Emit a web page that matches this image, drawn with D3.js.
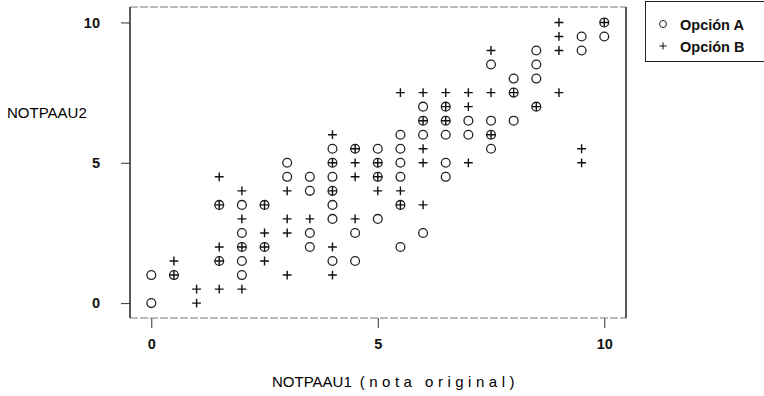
<!DOCTYPE html>
<meta charset="utf-8">
<script src="https://d3js.org/d3.v7.min.js"></script>
<style>
body { margin: 0; background: #fff; }
svg { display: block; font-family: "Liberation Sans", Arial, sans-serif; font-weight: bold; }
.axis .domain { display: none; }
.axis line { stroke: #333; }
.axis text { font-size: 14.5px; fill: #111; }
.title { font-weight: normal; font-size: 15px; fill: #000; }
</style>
<body>
<div id="canvas"></div>
<script>

// pontos (x = NOTPAAU1, y = NOTPAAU2)
var optionA = [
    [0,1],[0,0],
    [0.5,1],
    [1.5,3.5],[1.5,1.5],
    [2,3.5],[2,2.5],[2,2],[2,1.5],[2,1],
    [2.5,3.5],[2.5,2],
    [3,5],[3,4.5],
    [3.5,4.5],[3.5,4],[3.5,2.5],[3.5,2],
    [4,5.5],[4,5],[4,4.5],[4,4],[4,3.5],[4,3],[4,1.5],
    [4.5,5.5],[4.5,2.5],[4.5,1.5],
    [5,5.5],[5,5],[5,4.5],[5,3],
    [5.5,6],[5.5,5.5],[5.5,5],[5.5,4.5],[5.5,3.5],[5.5,2],
    [6,7],[6,6.5],[6,6],[6,2.5],
    [6.5,7],[6.5,6.5],[6.5,6],[6.5,5],[6.5,4.5],
    [7,6.5],[7,6],
    [7.5,8.5],[7.5,6.5],[7.5,6],[7.5,5.5],
    [8,8],[8,7.5],[8,6.5],
    [8.5,9],[8.5,8.5],[8.5,8],[8.5,7],
    [9.5,9.5],[9.5,9],
    [10,10],[10,9.5]
];
var optionB = [
    [0.5,1],[0.5,1.5],
    [1,0.5],[1,0],
    [1.5,4.5],[1.5,3.5],[1.5,2],[1.5,1.5],[1.5,0.5],
    [2,4],[2,3],[2,2],[2,0.5],
    [2.5,3.5],[2.5,2.5],[2.5,2],[2.5,1.5],
    [3,4],[3,3],[3,2.5],[3,1],
    [3.5,3],
    [4,6],[4,5],[4,4],[4,2],[4,1],
    [4.5,5.5],[4.5,5],[4.5,4.5],[4.5,3],
    [5,5],[5,4.5],[5,4],
    [5.5,7.5],[5.5,4],[5.5,3.5],
    [6,7.5],[6,6.5],[6,5.5],[6,5],[6,3.5],
    [6.5,7.5],[6.5,7],[6.5,6.5],
    [7,7.5],[7,7],[7,5],
    [7.5,9],[7.5,7.5],[7.5,6],
    [8,7.5],
    [8.5,7],
    [9,10],[9,9.5],[9,9],[9,7.5],
    [9.5,5.5],[9.5,5],
    [10,10]
];
var seriesNames = ["Opción A", "Opción B"];
var xTicks = [0, 5, 10];
var yTicks = [0, 5, 10];
var xTitle = ["NOTPAAU1", "(nota original)"];
var yTitle = "NOTPAAU2";

var width = 764;
var height = 396;

var svg = d3.select('#canvas')
    .append("svg")
    .attr("width", width)
    .attr("height", height);

var margin = {top: 7, right: 138, bottom: 78, left: 130};
var w = width - margin.left - margin.right;
var h = height - margin.top - margin.bottom;

var g = svg.append("g")
    .attr("transform", "translate(" + margin.left + "," + margin.top + ")");

// escalas - a moldura vai um pouco alem de 0 e 10
var x = d3.scaleLinear().domain([-0.47, 10.48]).range([0, w]);
var y = d3.scaleLinear().domain([-0.53, 10.55]).range([h, 0]);

// eixos
g.append("g")
    .attr("class", "axis")
    .attr("transform", "translate(0," + h + ")")
    .call(d3.axisBottom(x).tickValues(xTicks).tickSize(10).tickPadding(11).tickFormat(d3.format("d")));

g.append("g")
    .attr("class", "axis")
    .call(d3.axisLeft(y).tickValues(yTicks).tickSize(9).tickPadding(21).tickFormat(d3.format("d")));

// moldura (lados escuros, topo/base mais claros como no original)
g.append("line").attr("x1", 0).attr("x2", w).attr("y1", 0).attr("y2", 0)
    .attr("stroke", "#777").attr("stroke-dasharray", "8,2");
g.append("line").attr("x1", 0).attr("x2", w).attr("y1", h).attr("y2", h)
    .attr("stroke", "#777").attr("stroke-dasharray", "8,2");
g.append("line").attr("x1", 0).attr("x2", 0).attr("y1", 0).attr("y2", h)
    .attr("stroke", "#222").attr("stroke-width", 1.5);
g.append("line").attr("x1", w).attr("x2", w).attr("y1", 0).attr("y2", h)
    .attr("stroke", "#222").attr("stroke-width", 1.5);

// Opção A - circulos
g.selectAll(".ptA")
    .data(optionA)
    .enter()
    .append("circle")
    .attr("class", "ptA")
    .attr("cx", function(d) { return x(d[0]); })
    .attr("cy", function(d) { return y(d[1]); })
    .attr("r", 4.4)
    .attr("fill", "none")
    .attr("stroke", "#222")
    .attr("stroke-width", 1.3);

// Opção B - cruzes
var plus = function(cx, cy, s) {
    return "M" + (cx - s) + "," + cy + "H" + (cx + s) + "M" + cx + "," + (cy - s) + "V" + (cy + s);
};
g.selectAll(".ptB")
    .data(optionB)
    .enter()
    .append("path")
    .attr("class", "ptB")
    .attr("d", function(d) { return plus(x(d[0]), y(d[1]), 4.4); })
    .attr("fill", "none")
    .attr("stroke", "#111")
    .attr("stroke-width", 1.4);

// titulos dos eixos
svg.append("text")
    .attr("class", "title")
    .attr("x", 7)
    .attr("y", 118)
    .text(yTitle);

var xt = svg.append("text")
    .attr("class", "title")
    .attr("x", 272)
    .attr("y", 387);
xt.append("tspan").text(xTitle[0]);
xt.append("tspan").attr("dx", 8).style("letter-spacing", "4.5px").text(xTitle[1]);

// legenda ---------------------------------------------------
svg.append("rect")
    .attr("x", 645.5)
    .attr("y", 1.5)
    .attr("width", 130)
    .attr("height", 60)
    .attr("fill", "none")
    .attr("stroke", "#222");

var legend = svg.selectAll(".legend")
    .data(seriesNames)
    .enter()
    .append("g")
    .attr("class", "legend")
    .attr("transform", function(d, i) { return "translate(663," + (24 + i * 22) + ")"; });

legend.filter(function(d, i) { return i === 0; })
    .append("circle")
    .attr("r", 3.5)
    .attr("fill", "none")
    .attr("stroke", "#222");
legend.filter(function(d, i) { return i === 1; })
    .append("path")
    .attr("d", plus(0, 0, 3.6))
    .attr("stroke", "#111");

legend.append("text")
    .attr("x", 17)
    .attr("y", 5.5)
    .style("font-size", "14.5px")
    .attr("fill", "#111")
    .text(function(d) { return d; });

</script>
</body>
